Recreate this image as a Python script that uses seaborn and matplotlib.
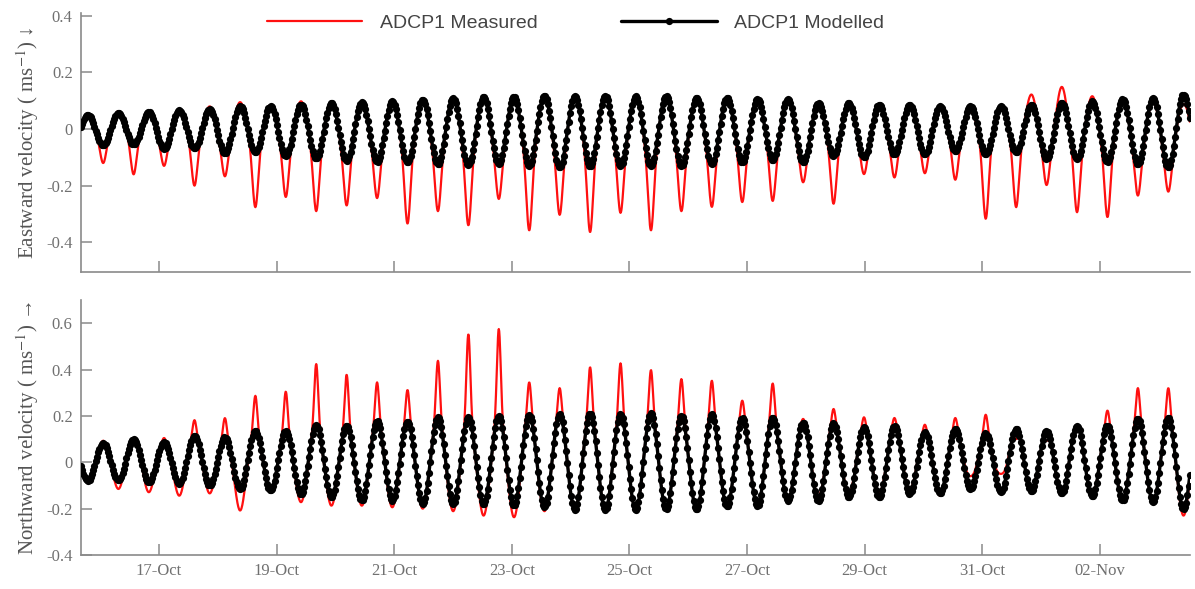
import numpy as np
import pandas as pd
import matplotlib
matplotlib.use("Agg")
import matplotlib.pyplot as plt
import matplotlib.dates as mdates
import seaborn as sns

# ---------------- data ----------------
# Eastward: extremes alternate trough, peak, trough, ... (trough before first peak to trough after last)
east_mod_peaks = [0.05, 0.057, 0.06, 0.067, 0.071, 0.081, 0.081, 0.087, 0.092, 0.095, 0.098, 0.104,
                  0.11, 0.113, 0.113, 0.118, 0.118, 0.118, 0.116, 0.116, 0.11, 0.11, 0.106, 0.106,
                  0.092, 0.092, 0.087, 0.087, 0.081, 0.081, 0.081, 0.087, 0.092, 0.098, 0.106, 0.11, 0.122]
east_mod_troughs = [-0.05, -0.057, -0.054, -0.069, -0.069, -0.085, -0.083, -0.095, -0.104, -0.112, -0.116,
                    -0.118, -0.124, -0.127, -0.124, -0.13, -0.136, -0.13, -0.13, -0.13, -0.13, -0.124,
                    -0.118, -0.109, -0.118, -0.095, -0.1, -0.089, -0.089, -0.077, -0.089, -0.083, -0.106,
                    -0.106, -0.116, -0.124, -0.136, -0.11]
east_meas_peaks = [0.05, 0.063, 0.06, 0.069, 0.08, 0.095, 0.085, 0.098, 0.092, 0.095, 0.098, 0.104,
                   0.11, 0.113, 0.113, 0.118, 0.118, 0.118, 0.116, 0.116, 0.11, 0.11, 0.106, 0.106,
                   0.092, 0.092, 0.085, 0.083, 0.07, 0.06, 0.075, 0.122, 0.149, 0.116, 0.1, 0.095, 0.088]
east_meas_troughs = [-0.05, -0.12, -0.16, -0.13, -0.2, -0.167, -0.276, -0.24, -0.29, -0.27, -0.244,
                     -0.334, -0.29, -0.34, -0.247, -0.358, -0.303, -0.364, -0.296, -0.358, -0.29, -0.275,
                     -0.258, -0.254, -0.188, -0.264, -0.159, -0.171, -0.156, -0.179, -0.317, -0.276,
                     -0.198, -0.294, -0.311, -0.235, -0.221, -0.11]

# Northward: extremes alternate peak, trough, peak, ... (peak before first trough to peak after last)
north_mod_peaks = [0.07, 0.082, 0.1, 0.086, 0.115, 0.108, 0.136, 0.134, 0.162, 0.158, 0.177, 0.177,
                   0.194, 0.194, 0.201, 0.205, 0.208, 0.211, 0.208, 0.211, 0.201, 0.208, 0.191, 0.194,
                   0.172, 0.168, 0.151, 0.158, 0.129, 0.144, 0.125, 0.144, 0.134, 0.158, 0.158, 0.187,
                   0.191, 0.2]
north_mod_troughs = [-0.079, -0.079, -0.086, -0.093, -0.1, -0.115, -0.122, -0.136, -0.151, -0.165,
                     -0.165, -0.18, -0.18, -0.18, -0.187, -0.194, -0.205, -0.205, -0.205, -0.201,
                     -0.205, -0.191, -0.187, -0.165, -0.165, -0.151, -0.151, -0.136, -0.134, -0.115,
                     -0.129, -0.125, -0.134, -0.148, -0.165, -0.172, -0.201]
north_meas_peaks = [0.07, 0.093, 0.1, 0.105, 0.182, 0.191, 0.287, 0.305, 0.424, 0.378, 0.345, 0.312,
                    0.438, 0.553, 0.575, 0.345, 0.32, 0.41, 0.427, 0.398, 0.359, 0.352, 0.266, 0.34,
                    0.187, 0.23, 0.194, 0.191, 0.162, 0.191, 0.205, 0.1, 0.093, 0.151, 0.223, 0.32,
                    0.32, 0.2]
north_meas_troughs = [-0.079, -0.115, -0.129, -0.144, -0.134, -0.208, -0.129, -0.172, -0.187, -0.187,
                      -0.194, -0.2, -0.211, -0.23, -0.237, -0.211, -0.205, -0.205, -0.205, -0.201,
                      -0.205, -0.19, -0.187, -0.16, -0.144, -0.13, -0.13, -0.115, -0.144, -0.06,
                      -0.05, -0.125, -0.13, -0.14, -0.16, -0.17, -0.23]

start_time = pd.Timestamp("2016-10-15 16:10")
end_time = pd.Timestamp("2016-11-03 12:45")
first_east_peak = pd.Timestamp("2016-10-15 19:00")
tide_period_h = 12.42
model_step_h = 0.5
tick_dates = pd.date_range("2016-10-17", periods=9, freq="2D")

# ---------------- build series ----------------
half = tide_period_h / 2.0
t0 = (first_east_peak - start_time) / pd.Timedelta(hours=1)  # hours since start


def interleave(a, b):
    out = []
    for i in range(len(b)):
        out.append(a[i])
        out.append(b[i])
    if len(a) > len(b):
        out.append(a[-1])
    return out


east_mod_ext = interleave(east_mod_troughs, east_mod_peaks)
east_meas_ext = interleave(east_meas_troughs, east_meas_peaks)
north_mod_ext = interleave(north_mod_peaks, north_mod_troughs)
north_meas_ext = interleave(north_meas_peaks, north_meas_troughs)
ext_t = t0 - half + half * np.arange(len(east_mod_ext))  # both components share timing


def smooth_through(th, et, ev):
    ev = np.asarray(ev)
    i = np.clip(np.searchsorted(et, th) - 1, 0, len(et) - 2)
    s = (th - et[i]) / (et[i + 1] - et[i])
    return ev[i] + (ev[i + 1] - ev[i]) * (1 - np.cos(np.pi * s)) / 2


def measured(th, et, mod, meas, first_is_peak, w_peak, w_trough):
    base = smooth_through(th, et, mod)
    out = base.copy()
    for k, (m, r) in enumerate(zip(mod, meas)):
        is_peak = (k % 2 == 0) == first_is_peak
        w = w_peak if is_peak else w_trough
        out += (r - m) * np.exp(-((th - et[k]) / w) ** 2)
    return out


total_h = (end_time - start_time) / pd.Timedelta(hours=1)
th_fine = np.arange(0, total_h + 1e-9, 1 / 6)
th_mod = np.arange(0, total_h + 1e-9, model_step_h)
t_fine = start_time + pd.to_timedelta(th_fine, unit="h")
t_mod = start_time + pd.to_timedelta(th_mod, unit="h")

east_meas = measured(th_fine, ext_t, east_mod_ext, east_meas_ext, False, 2.5, 1.6)
north_meas = measured(th_fine, ext_t, north_mod_ext, north_meas_ext, True, 1.1, 2.5)
east_mod = smooth_through(th_mod, ext_t, east_mod_ext)
north_mod = smooth_through(th_mod, ext_t, north_mod_ext)

df_meas = pd.DataFrame({"time": t_fine, "east": east_meas, "north": north_meas})
df_mod = pd.DataFrame({"time": t_mod, "east": east_mod, "north": north_mod})

# ---------------- plot ----------------
sns.set_theme(style="ticks")
plt.rcParams["mathtext.fontset"] = "stix"
serif = ["Liberation Serif", "DejaVu Serif"]
grey = "#707070"

fig = plt.figure(figsize=(11.95, 5.89), dpi=100)
ax1 = fig.add_axes([0.0678, 0.5382, 0.928, 0.4397])
ax2 = fig.add_axes([0.0678, 0.0577, 0.928, 0.4329])

for ax, col, ylim, yt, lab in [
    (ax1, "east", (-0.505, 0.41), [-0.4, -0.2, 0, 0.2, 0.4], "Eastward velocity ( ms$^{-1}$) \u2193"),
    (ax2, "north", (-0.4, 0.7), [-0.4, -0.2, 0, 0.2, 0.4, 0.6], "Northward velocity ( ms$^{-1}$) \u2192"),
]:
    sns.lineplot(data=df_meas, x="time", y=col, ax=ax, color="#ff1010", lw=1.6,
                 label="ADCP1 Measured", zorder=2)
    sns.lineplot(data=df_mod, x="time", y=col, ax=ax, color="black", lw=2.4, marker="o",
                 markersize=5.2, markeredgewidth=0, label="ADCP1 Modelled", zorder=3)
    ax.set_xlim(start_time, end_time)
    ax.set_ylim(*ylim)
    ax.set_yticks(yt)
    ax.set_yticklabels([("%g" % v) if v != 0 else "0" for v in yt])
    ax.set_xticks(tick_dates)
    ax.xaxis.set_major_formatter(mdates.DateFormatter("%d-%b"))
    ax.set_xlabel("")
    ax.set_ylabel(lab, family=serif, fontsize=15, color="#555555")
    ax.yaxis.set_label_coords(-0.036, 0.5)
    for s in ["top", "right"]:
        ax.spines[s].set_visible(False)
    for s in ["left", "bottom"]:
        ax.spines[s].set_color("#8a8a8a")
        ax.spines[s].set_linewidth(1.2)
    ax.tick_params(direction="in", length=8, width=1.1, color="#8a8a8a",
                   labelcolor=grey, labelsize=12, pad=6)
    for t in ax.get_xticklabels() + ax.get_yticklabels():
        t.set_family(serif)

ax1.tick_params(axis="x", labelbottom=False)
ax2.get_legend().remove()
leg = ax1.legend(loc="center", bbox_to_anchor=(0.446, 0.962), ncol=2, frameon=False,
                 handlelength=4.9, handletextpad=0.9, columnspacing=4.3,
                 prop={"family": ["Liberation Sans", "DejaVu Sans"], "size": 14})
for t in leg.get_texts():
    t.set_color("#444444")

fig.savefig("out.png", dpi=100)
